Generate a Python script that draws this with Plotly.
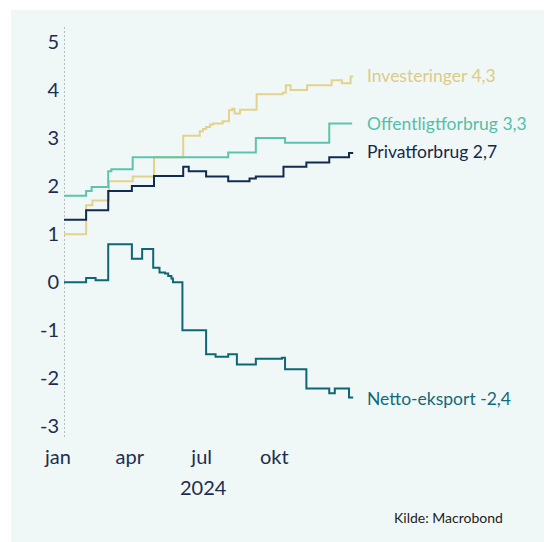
import plotly.graph_objects as go

# ---- data ----
inv_dates = ["2024-01-01","2024-01-29","2024-02-06","2024-02-27","2024-03-28","2024-04-24",
             "2024-05-31","2024-06-21","2024-06-25","2024-06-29","2024-07-04","2024-07-08",
             "2024-07-20","2024-07-28","2024-08-01","2024-08-04","2024-08-11","2024-09-01",
             "2024-10-04","2024-10-08","2024-10-14","2024-11-04","2024-12-05","2024-12-18",
             "2024-12-29","2024-12-31"]
inv_vals = [1.0,1.6,1.7,2.1,2.2,2.6,3.05,3.14,3.19,3.23,3.28,3.30,3.35,3.58,3.61,3.51,3.59,
            3.91,3.94,4.1,4.0,4.1,4.2,4.14,4.28,4.3]

off_dates = ["2024-01-01","2024-01-29","2024-02-05","2024-02-26","2024-03-01","2024-03-28",
             "2024-07-27","2024-08-31","2024-10-07","2024-12-02","2024-12-31"]
off_vals = [1.8,1.9,1.98,2.31,2.35,2.6,2.7,3.0,2.9,3.3,3.3]

priv_dates = ["2024-01-01","2024-01-29","2024-02-26","2024-03-27","2024-04-24","2024-05-31",
              "2024-06-07","2024-06-29","2024-07-27","2024-08-23","2024-08-31","2024-10-05",
              "2024-11-03","2024-12-02","2024-12-27","2024-12-31"]
priv_vals = [1.3,1.5,1.9,2.0,2.21,2.40,2.31,2.2,2.1,2.16,2.2,2.4,2.49,2.6,2.69,2.71]

net_dates = ["2024-01-01","2024-01-29","2024-02-10","2024-02-26","2024-03-27","2024-04-09",
             "2024-04-23","2024-05-01","2024-05-08","2024-05-12","2024-05-16","2024-05-18",
             "2024-05-30","2024-06-29","2024-07-11","2024-07-27","2024-08-07","2024-08-31",
             "2024-10-03","2024-10-07","2024-11-03","2024-12-02","2024-12-09","2024-12-27",
             "2024-12-31"]
net_vals = [0.0,0.09,0.04,0.79,0.49,0.69,0.30,0.2,0.18,0.13,0.08,0.0,-1.0,-1.50,-1.55,-1.50,
            -1.71,-1.59,-1.57,-1.81,-2.21,-2.31,-2.21,-2.40,-2.42]

series = [
    ("Investeringer 4,3", inv_dates, inv_vals, "#e3d28c", "#dccb85"),
    ("Offentligtforbrug 3,3", off_dates, off_vals, "#5cc3af", "#55bea9"),
    ("Privatforbrug 2,7", priv_dates, priv_vals, "#102a50", "#14284c"),
    ("Netto-eksport -2,4", net_dates, net_vals, "#0f6676", "#13687a"),
]

x_ticks = ["2024-01-01", "2024-04-01", "2024-07-01", "2024-10-01"]
x_ticktext = ["jan", "apr", "jul", "okt"]
y_ticks = [5, 4, 3, 2, 1, 0, -1, -2, -3]
y_ticktext = ["5", "4", "3", "2", "1", "0", "-1", "-2", "-3"]

FONT = "Lato"
OFF = 8  # page body margin
W, H = 552 - OFF, 542 - OFF
L, T = 64 - OFF, 27 - OFF
PW, PH = 300, 410
R = W - L - PW
B = H - T - PH


def px_x(page_x):
    return (page_x - OFF - L) / PW


def px_y(page_y):
    return (T + PH - (page_y - OFF)) / PH


fig = go.Figure()
for name, d, v, lc, tc in series:
    fig.add_trace(go.Scatter(x=d, y=v, mode="lines", line=dict(color=lc, width=2, shape="hv"),
                             name=name, showlegend=False, hoverinfo="skip"))
    fig.add_annotation(x=d[-1], y=v[-1], text=name, showarrow=False, xanchor="left",
                       yanchor="middle", xshift=13, font=dict(family=FONT, size=17.5, color=tc))

# panel background
fig.add_shape(type="rect", xref="paper", yref="paper",
              x0=px_x(11), x1=px_x(560), y0=px_y(560), y1=px_y(10),
              fillcolor="#f0f8f7", line=dict(width=0), layer="below")
# dotted y axis line
fig.add_shape(type="line", xref="x", yref="paper", x0="2024-01-01", x1="2024-01-01", y0=0, y1=1,
              line=dict(color="#a8a8a8", width=1.5, dash="2px,2px"), layer="below")

fig.add_annotation(xref="paper", yref="paper", x=px_x(203), y=px_y(487),
                   text="2024", showarrow=False, xanchor="center", yanchor="middle",
                   font=dict(family=FONT, size=20, color="#1d2d50"))
fig.add_annotation(xref="paper", yref="paper", x=px_x(505), y=px_y(517),
                   text="Kilde: Macrobond", showarrow=False, xanchor="right", yanchor="middle",
                   font=dict(family=FONT, size=14, color="#222222"))

fig.update_layout(
    width=W, height=H,
    margin=dict(l=L, r=R, t=T, b=B, pad=0),
    paper_bgcolor="white", plot_bgcolor="rgba(0,0,0,0)",
    showlegend=False,
    xaxis=dict(type="date", range=["2024-01-01", "2025-01-15"], tickvals=x_ticks,
               ticktext=x_ticktext, showgrid=False, zeroline=False, showline=False,
               ticks="", ticklabelstandoff=6, ticklabelshift=-6,
               tickfont=dict(family=FONT, size=20, color="#1d2d50"), automargin=False),
    yaxis=dict(range=[-3.22, 5.31], tickvals=y_ticks, ticktext=y_ticktext, showgrid=False,
               zeroline=False, showline=False, ticks="", ticklabelstandoff=4,
               tickfont=dict(family=FONT, size=20, color="#1d2d50"), automargin=False),
)

fig.write_html("out.html")
